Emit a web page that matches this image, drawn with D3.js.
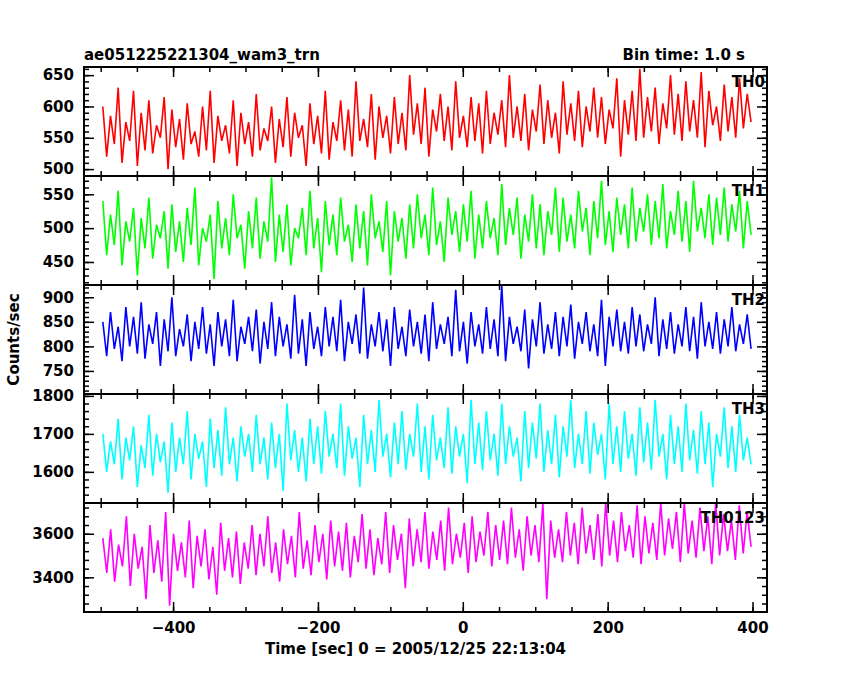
<!DOCTYPE html>
<html><head><meta charset="utf-8">
<script src="https://cdn.jsdelivr.net/npm/d3@7"></script>
<style>body{margin:0;background:#fff}text{font-family:"DejaVu Sans",sans-serif;font-weight:bold;fill:#000}</style>
</head><body><svg id="app" width="850" height="680"></svg>
<script>
// band names, colours, y ranges and ticks
const names = ["TH0", "TH1", "TH2", "TH3", "TH0123"];
const colors = ["#ff0000", "#00ff00", "#0000ff", "#00ffff", "#ff00ff"];
const yDomains = [[489, 663], [416, 577], [703, 925], [1518, 1805], [3241, 3741]];
const yTicks = [[500, 550, 600, 650], [450, 500, 550], [750, 800, 850, 900], [1600, 1700, 1800], [3400, 3600]];
const yMinor = [10, 10, 10, 20, 40];
const xTicks = [-400, -200, 0, 200, 400];
const tStart = -497, tEnd = 398;

// count rates (evenly spaced samples)
const th0 = [600,520,585,540,630,510,575,545,625,505,590,530,610,525,570,550,615,500,595,535,
580,515,605,540,560,520,600,530,625,510,585,545,570,525,610,505,590,540,575,520,
620,530,565,545,600,510,580,535,615,520,590,550,570,505,605,540,585,525,625,515,
575,545,610,530,595,520,640,545,580,535,620,515,600,550,585,525,615,540,590,530,
650,555,605,540,630,520,595,560,620,545,600,530,640,550,585,535,615,545,605,525,
625,540,590,555,610,535,650,550,600,545,620,530,595,560,635,540,610,550,590,525,
640,555,605,545,625,535,600,560,630,550,615,540,595,565,645,520,610,555,625,545,
660,550,615,560,630,540,605,565,650,555,620,545,640,560,610,550,655,535,625,570,
600,545,635,560,615,550,645,565,620,575];
const th1 = [540,460,520,475,555,445,510,480,530,430,515,470,545,455,505,485,525,440,535,465,
510,450,530,475,560,445,500,480,520,425,540,470,515,460,550,485,505,440,525,470,
545,455,510,480,575,450,520,465,535,445,500,485,530,460,555,470,515,435,540,475,
520,460,545,480,505,450,535,470,525,445,550,485,510,465,540,430,525,480,515,455,
535,470,550,485,520,460,560,475,510,450,545,490,525,465,535,480,555,455,520,470,
540,485,515,460,565,475,530,490,545,455,520,480,550,470,535,460,525,490,560,465,
545,480,520,470,555,495,530,460,540,485,570,475,525,465,545,490,535,470,560,480,
530,495,550,475,540,485,565,470,525,490,555,480,540,465,570,495,530,485,550,475,
545,490,560,480,535,495,555,470,540,490];
const th2 = [850,780,870,795,840,770,880,800,860,785,890,775,845,805,870,760,855,790,900,780,
835,800,865,770,850,795,880,785,845,760,870,800,855,780,895,770,840,805,860,790,
875,765,850,795,890,780,860,800,845,775,905,785,855,760,870,795,840,780,880,800,
860,790,895,770,850,805,865,785,920,775,845,800,870,790,855,760,880,795,840,780,
875,800,850,785,865,770,890,795,845,805,860,780,915,790,850,765,870,800,845,785,
880,795,855,780,925,770,860,805,840,790,875,755,855,800,890,785,845,795,870,780,
860,800,885,775,850,805,870,790,845,780,895,760,860,800,875,790,850,785,880,800,
865,790,845,805,900,780,855,795,870,785,845,800,880,790,860,775,890,800,850,795,
870,785,855,800,880,790,845,805,865,795];
const th3 = [1700,1600,1680,1620,1740,1580,1690,1630,1720,1560,1670,1610,1750,1590,1700,1625,1680,1545,1730,1600,
1690,1620,1760,1580,1700,1635,1680,1560,1740,1610,1710,1590,1770,1620,1690,1575,1720,1640,1700,1600,
1750,1620,1690,1580,1730,1610,1700,1550,1780,1630,1710,1600,1690,1575,1740,1620,1720,1595,1760,1640,
1700,1610,1780,1590,1720,1635,1690,1560,1750,1620,1710,1600,1790,1640,1700,1585,1730,1620,1760,1605,
1700,1640,1780,1600,1720,1580,1750,1630,1690,1610,1770,1595,1720,1640,1700,1570,1790,1620,1730,1605,
1760,1630,1700,1590,1780,1620,1720,1640,1690,1575,1760,1610,1730,1635,1780,1600,1710,1620,1750,1585,
1720,1640,1790,1610,1700,1620,1760,1595,1730,1645,1700,1580,1780,1620,1720,1600,1760,1635,1700,1590,
1770,1625,1730,1605,1790,1640,1700,1580,1750,1620,1720,1600,1780,1630,1710,1595,1760,1620,1730,1560,
1700,1640,1770,1610,1720,1600,1750,1630,1690,1620];
const th0123 = [3580,3420,3620,3380,3550,3450,3680,3360,3600,3440,3540,3300,3640,3420,3570,3380,3700,3270,3600,3430,
3560,3400,3660,3350,3590,3450,3620,3390,3540,3320,3650,3430,3580,3400,3610,3370,3560,3440,3640,3410,
3600,3450,3680,3420,3560,3380,3620,3460,3590,3400,3700,3440,3570,3410,3640,3470,3600,3390,3660,3450,
3610,3430,3650,3400,3590,3470,3690,3440,3620,3410,3580,3460,3700,3420,3640,3480,3600,3350,3670,3450,
3620,3470,3700,3440,3610,3480,3660,3430,3720,3460,3600,3490,3650,3420,3680,3470,3610,3500,3700,3450,
3640,3480,3660,3460,3720,3490,3620,3430,3680,3500,3640,3470,3740,3300,3660,3490,3620,3470,3700,3500,
3650,3460,3720,3510,3640,3480,3690,3450,3740,3500,3660,3470,3700,3520,3640,3490,3730,3460,3680,3510,
3650,3480,3740,3500,3670,3530,3700,3470,3740,3510,3660,3490,3720,3520,3680,3460,3740,3500,3690,3520,
3660,3480,3730,3510,3700,3540];
const series = [th0, th1, th2, th3, th0123];

const LEFT = 84, RIGHT = 767, TOP = 67, BOTTOM = 612;
const PH = (BOTTOM - TOP) / 5;
const svg = d3.select("#app");

const x = d3.scaleLinear().domain([-523, 420]).range([LEFT, RIGHT]);

svg.append("defs").append("clipPath").attr("id", "clip")
  .append("rect").attr("x", LEFT).attr("y", 0).attr("width", RIGHT - LEFT).attr("height", PH);

series.forEach((vals, k) => {
  const top = TOP + k * PH;
  const g = svg.append("g").attr("transform", `translate(0,${top})`);
  const y = d3.scaleLinear().domain(yDomains[k]).range([PH, 0]);
  const t = d3.scaleLinear().domain([0, vals.length - 1]).range([tStart, tEnd]);
  const pts = vals.map((v, i) => [t(i), v]);
  const line = d3.line().x(d => x(d[0])).y(d => y(d[1]));
  g.append("path").datum(pts).attr("clip-path", "url(#clip)")
    .attr("d", line).attr("fill", "none").attr("stroke", colors[k]).attr("stroke-width", 1.6);

  // y ticks on both sides
  const minor = d3.range(Math.ceil(yDomains[k][0] / yMinor[k]) * yMinor[k], yDomains[k][1], yMinor[k]);
  const yl = d3.axisRight(y).tickValues(yTicks[k]).tickSize(10).tickFormat(d3.format("d"));
  const ylMin = d3.axisRight(y).tickValues(minor).tickSize(5).tickFormat("");
  const yr = d3.axisLeft(y).tickValues(yTicks[k]).tickSize(10).tickFormat("");
  const yrMin = d3.axisLeft(y).tickValues(minor).tickSize(5).tickFormat("");
  const gl = g.append("g").attr("transform", `translate(${LEFT},0)`).call(yl);
  gl.selectAll("text").attr("x", -10).attr("text-anchor", "end").style("font-size", "15px");
  g.append("g").attr("transform", `translate(${LEFT},0)`).call(ylMin);
  g.append("g").attr("transform", `translate(${RIGHT},0)`).call(yr);
  g.append("g").attr("transform", `translate(${RIGHT},0)`).call(yrMin);

  // x ticks at top and bottom of each panel
  const xMinor = d3.range(-500, 401, 50);
  g.append("g").call(d3.axisBottom(x).tickValues(xTicks).tickSize(10).tickFormat(""));
  g.append("g").call(d3.axisBottom(x).tickValues(xMinor).tickSize(5).tickFormat(""));
  g.append("g").attr("transform", `translate(0,${PH})`).call(d3.axisTop(x).tickValues(xTicks).tickSize(10).tickFormat(""));
  g.append("g").attr("transform", `translate(0,${PH})`).call(d3.axisTop(x).tickValues(xMinor).tickSize(5).tickFormat(""));

  g.selectAll(".domain").remove();
  g.selectAll(".tick line").attr("stroke", "#000").attr("stroke-width", 1.5);
  g.append("rect").attr("x", LEFT).attr("y", 0).attr("width", RIGHT - LEFT).attr("height", PH)
    .attr("fill", "none").attr("stroke", "#000").attr("stroke-width", 2);

  g.append("text").attr("x", RIGHT - 2).attr("y", 20).attr("text-anchor", "end")
    .style("font-size", "15px").text(names[k]);
});

// bottom axis labels
const xb = svg.append("g").attr("transform", `translate(0,${BOTTOM})`)
  .call(d3.axisBottom(x).tickValues(xTicks).tickSize(0).tickPadding(10).tickFormat(d3.format("d")));
xb.select(".domain").remove();
xb.selectAll("text").style("font-size", "15px");

svg.append("text").attr("x", LEFT).attr("y", 60).style("font-size", "15px").text("ae051225221304_wam3_trn");
svg.append("text").attr("x", 745).attr("y", 60).attr("text-anchor", "end").style("font-size", "15px").text("Bin time: 1.0 s");
svg.append("text").attr("x", (LEFT + RIGHT) / 2 - 10).attr("y", 654).attr("text-anchor", "middle")
  .style("font-size", "15px").text("Time [sec] 0 = 2005/12/25 22:13:04");
svg.append("text").attr("transform", `translate(19,${(TOP + BOTTOM) / 2}) rotate(-90)`)
  .attr("text-anchor", "middle").style("font-size", "15px").text("Counts/sec");
</script></body></html>
